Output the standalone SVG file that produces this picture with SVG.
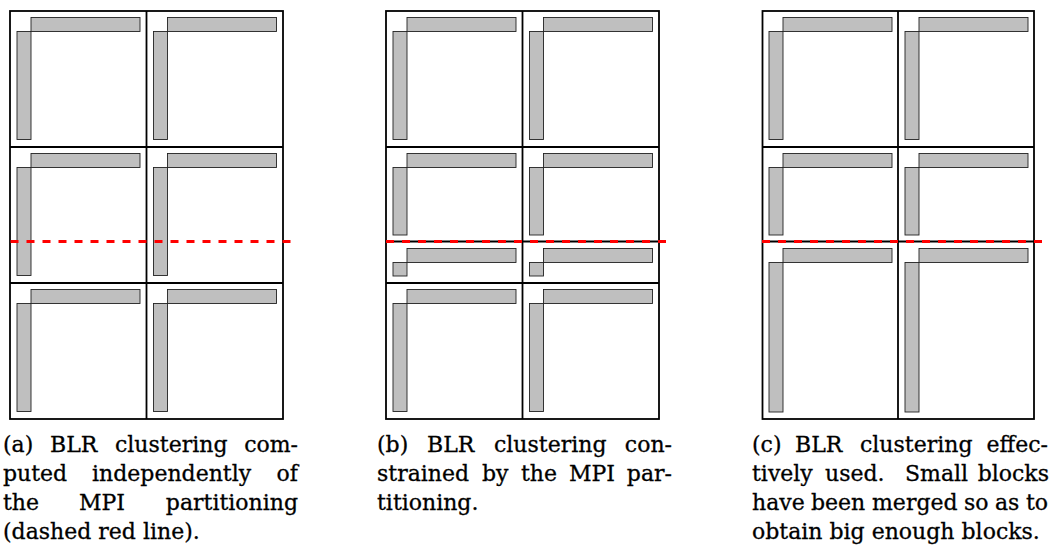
<svg xmlns="http://www.w3.org/2000/svg" width="1052" height="553" viewBox="0 0 1052 553">
  <style>
    .grid { fill: none; stroke: #000; stroke-width: 1.8; }
    .sep { stroke: #000; stroke-width: 1.8; }
    .blk { fill: #bfbfbf; stroke: #222; stroke-width: 0.9; }
    .mpi { stroke: #ff0000; stroke-width: 3; stroke-dasharray: 8 8; fill: none; }
    .cap { font-family: "DejaVu Serif", "Liberation Serif", serif; font-size: 22px; fill: #000; stroke: #000; stroke-width: 0.3; }
    .end { text-anchor: end; }
  </style>
  <rect width="1052" height="553" fill="#fff"/>

  <!-- Panel (a) -->
  <g id="panel-a">
    <g id="a-grid">
      <rect class="grid" x="10" y="11" width="273" height="408"/>
      <line class="sep" x1="146.5" y1="11" x2="146.5" y2="419"/>
      <line class="sep" x1="10" y1="147" x2="283" y2="147"/>
      <line class="sep" x1="10" y1="283" x2="283" y2="283"/>
    </g>
    <g id="a-r1c1"><rect class="blk" x="17" y="31.5" width="14" height="108"/><rect class="blk" x="31" y="17.5" width="109" height="14"/></g>
    <g id="a-r1c2"><rect class="blk" x="153.5" y="31.5" width="14" height="108"/><rect class="blk" x="167.5" y="17.5" width="109" height="14"/></g>
    <g id="a-r2c1"><rect class="blk" x="17" y="167.5" width="14" height="108"/><rect class="blk" x="31" y="153.5" width="109" height="14"/></g>
    <g id="a-r2c2"><rect class="blk" x="153.5" y="167.5" width="14" height="108"/><rect class="blk" x="167.5" y="153.5" width="109" height="14"/></g>
    <g id="a-r3c1"><rect class="blk" x="17" y="303.5" width="14" height="108"/><rect class="blk" x="31" y="289.5" width="109" height="14"/></g>
    <g id="a-r3c2"><rect class="blk" x="153.5" y="303.5" width="14" height="108"/><rect class="blk" x="167.5" y="289.5" width="109" height="14"/></g>
  </g>

  <!-- Panel (b) -->
  <g id="panel-b">
    <g id="b-grid">
      <rect class="grid" x="386" y="11" width="273" height="408"/>
      <line class="sep" x1="522.5" y1="11" x2="522.5" y2="419"/>
      <line class="sep" x1="386" y1="147" x2="659" y2="147"/>
      <line class="sep" x1="386" y1="241.5" x2="659" y2="241.5"/>
      <line class="sep" x1="386" y1="283" x2="659" y2="283"/>
    </g>
    <g id="b-r1c1"><rect class="blk" x="393" y="31.5" width="14" height="108"/><rect class="blk" x="407" y="17.5" width="109" height="14"/></g>
    <g id="b-r1c2"><rect class="blk" x="529.5" y="31.5" width="14" height="108"/><rect class="blk" x="543.5" y="17.5" width="109" height="14"/></g>
    <g id="b-r2c1"><rect class="blk" x="393" y="167.5" width="14" height="67.5"/><rect class="blk" x="407" y="153.5" width="109" height="14"/></g>
    <g id="b-r2c2"><rect class="blk" x="529.5" y="167.5" width="14" height="67.5"/><rect class="blk" x="543.5" y="153.5" width="109" height="14"/></g>
    <g id="b-r3c1"><rect class="blk" x="393" y="262.5" width="14" height="13.5"/><rect class="blk" x="407" y="248.5" width="109" height="14"/></g>
    <g id="b-r3c2"><rect class="blk" x="529.5" y="262.5" width="14" height="13.5"/><rect class="blk" x="543.5" y="248.5" width="109" height="14"/></g>
    <g id="b-r4c1"><rect class="blk" x="393" y="303.5" width="14" height="108"/><rect class="blk" x="407" y="289.5" width="109" height="14"/></g>
    <g id="b-r4c2"><rect class="blk" x="529.5" y="303.5" width="14" height="108"/><rect class="blk" x="543.5" y="289.5" width="109" height="14"/></g>
  </g>

  <!-- Panel (c) -->
  <g id="panel-c">
    <g id="c-grid">
      <rect class="grid" x="762.5" y="11" width="271.5" height="408"/>
      <line class="sep" x1="898" y1="11" x2="898" y2="419"/>
      <line class="sep" x1="762.5" y1="147" x2="1034" y2="147"/>
      <line class="sep" x1="762.5" y1="241.5" x2="1034" y2="241.5"/>
    </g>
    <g id="c-r1c1"><rect class="blk" x="769" y="31.5" width="14" height="108"/><rect class="blk" x="783" y="17.5" width="109" height="14"/></g>
    <g id="c-r1c2"><rect class="blk" x="905" y="31.5" width="14" height="108"/><rect class="blk" x="919" y="17.5" width="109" height="14"/></g>
    <g id="c-r2c1"><rect class="blk" x="769" y="167.5" width="14" height="67.5"/><rect class="blk" x="783" y="153.5" width="109" height="14"/></g>
    <g id="c-r2c2"><rect class="blk" x="905" y="167.5" width="14" height="67.5"/><rect class="blk" x="919" y="153.5" width="109" height="14"/></g>
    <g id="c-r3c1"><rect class="blk" x="769" y="262.5" width="14" height="149.5"/><rect class="blk" x="783" y="248.5" width="109" height="14"/></g>
    <g id="c-r3c2"><rect class="blk" x="905" y="262.5" width="14" height="149.5"/><rect class="blk" x="919" y="248.5" width="109" height="14"/></g>
  </g>

  <!-- MPI partition lines -->
  <g id="connectors">
    <line class="mpi" x1="10.5" y1="241.5" x2="290.5" y2="241.5"/>
    <line class="mpi" x1="386" y1="241.5" x2="666" y2="241.5"/>
    <line class="mpi" x1="762" y1="241.5" x2="1042" y2="241.5"/>
  </g>

  <!-- Captions -->
  <g id="caption-a" class="cap">
    <text y="452"><tspan x="3">(a)</tspan><tspan x="50">BLR</tspan><tspan x="115">clustering</tspan></text>
    <text y="452" class="end" x="298">com-</text>
    <text y="481"><tspan x="3">puted</tspan><tspan x="92">independently</tspan></text>
    <text y="481" class="end" x="298">of</text>
    <text y="510"><tspan x="3">the</tspan><tspan x="79">MPI</tspan></text>
    <text y="510" class="end" x="298">partitioning</text>
    <text y="539" x="3">(dashed red line).</text>
  </g>
  <g id="caption-b" class="cap">
    <text y="452"><tspan x="377">(b)</tspan><tspan x="427">BLR</tspan><tspan x="494">clustering</tspan></text>
    <text y="452" class="end" x="672">con-</text>
    <text y="481"><tspan x="377">strained</tspan><tspan x="482">by</tspan><tspan x="521">the</tspan><tspan x="569">MPI</tspan></text>
    <text y="481" class="end" x="672">par-</text>
    <text y="510" x="377">titioning.</text>
  </g>
  <g id="caption-c" class="cap">
    <text y="452"><tspan x="752">(c)</tspan><tspan x="795">BLR</tspan><tspan x="860">clustering</tspan></text>
    <text y="452" class="end" x="1048">effec-</text>
    <text y="481"><tspan x="752">tively</tspan><tspan x="825">used.</tspan><tspan x="905">Small</tspan></text>
    <text y="481" class="end" x="1049">blocks</text>
    <text y="510"><tspan x="752">have</tspan><tspan x="811">been</tspan><tspan x="872">merged</tspan><tspan x="964">so</tspan><tspan x="995">as</tspan></text>
    <text y="510" class="end" x="1048">to</text>
    <text y="539" x="752">obtain big enough blocks.</text>
  </g>
</svg>
